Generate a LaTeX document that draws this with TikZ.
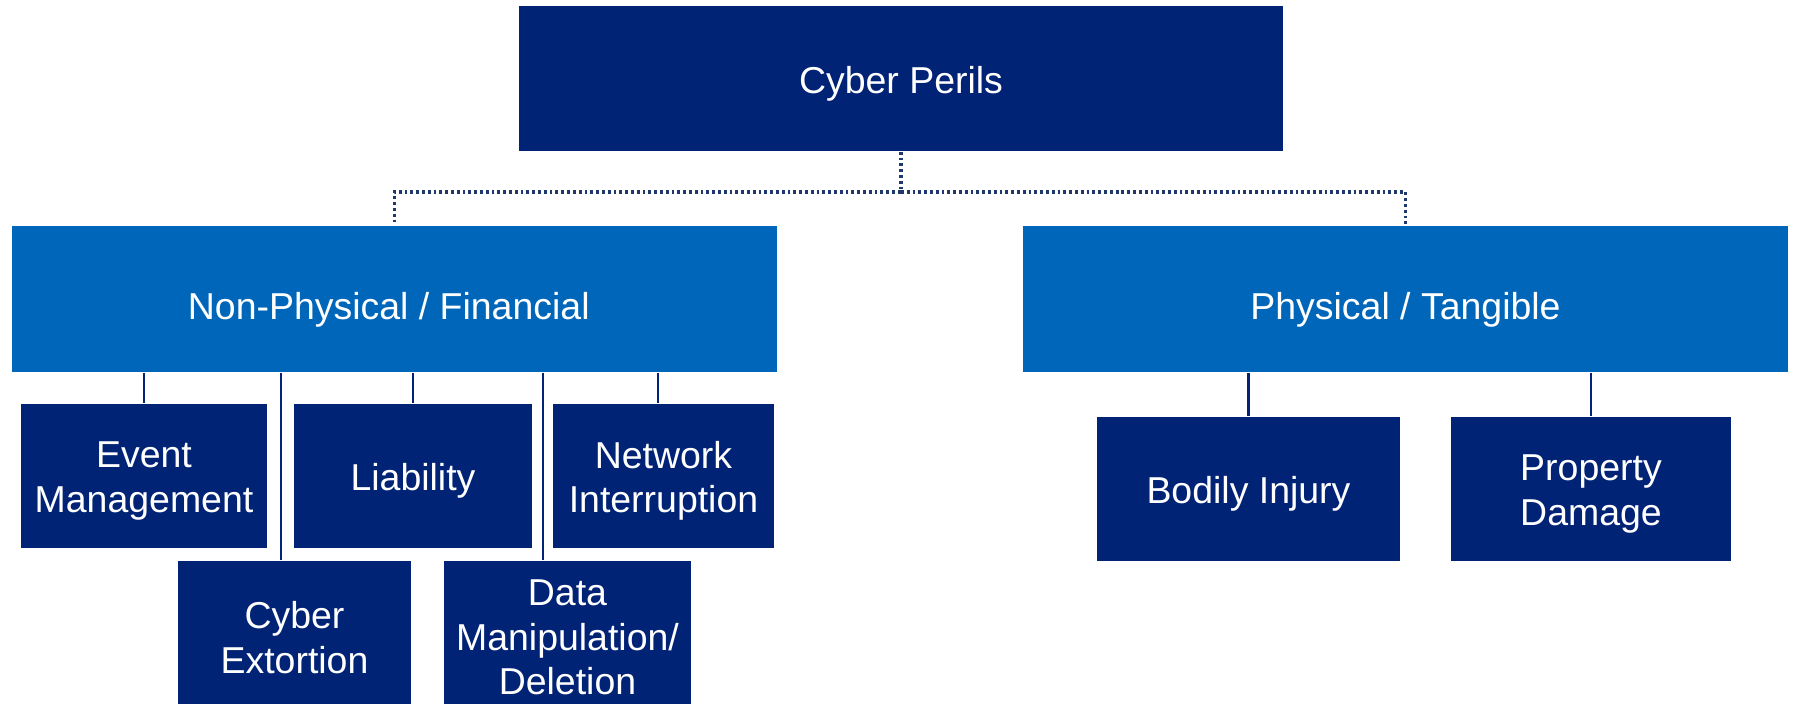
\documentclass[tikz,border=0pt]{standalone}
\usepackage{fontspec}
\setmainfont{Liberation Sans}
\definecolor{navy}{RGB}{0,35,117}
\definecolor{midblue}{RGB}{0,102,185}
\definecolor{dotblue}{RGB}{31,56,110}
\begin{document}
\begin{tikzpicture}[x=0.01cm,y=-0.01cm,
  box/.style={rectangle, inner sep=0pt},
  tx/.style={text=white, align=center, inner sep=0pt, yshift=-0.05cm,
    font=\fontsize{10.65}{12.6}\selectfont},
  txb/.style={tx, yshift=-0.055cm},
  navybox/.style={box, fill=navy},
  bluebox/.style={box, fill=midblue},
  link/.style={draw=navy, line width=0.6pt},
  dotlink/.style={draw=dotblue, line width=0.9pt, dash pattern=on 0.8pt off 0.85pt}]
\useasboundingbox (0,0) rectangle (1793,704);
% top
\node[navybox, minimum width=7.64cm, minimum height=1.45cm,
  label={[tx]center:Cyber Perils}] (top) at (901,78.5) {};
% level 2
\node[bluebox, minimum width=7.65cm, minimum height=1.46cm,
  label={[txb, xshift=-0.057cm]center:Non-Physical / Financial}] (nonphys) at (394.5,299) {};
\node[bluebox, minimum width=7.65cm, minimum height=1.46cm,
  label={[txb]center:Physical / Tangible}] (phys) at (1405.5,299) {};
% level 3 (non-physical)
\node[navybox, minimum width=2.46cm, minimum height=1.44cm,
  label={[tx]center:{Event\\Management}}] (event) at (144,476) {};
\node[navybox, minimum width=2.38cm, minimum height=1.44cm,
  label={[tx]center:Liability}] (liab) at (413,476) {};
\node[navybox, minimum width=2.21cm, minimum height=1.44cm,
  label={[tx]center:{Network\\Interruption}}] (net) at (663.5,476) {};
\node[navybox, minimum width=2.33cm, minimum height=1.43cm,
  label={[tx]center:{Cyber\\Extortion}}] (extort) at (294.5,632.5) {};
\node[navybox, minimum width=2.47cm, minimum height=1.43cm,
  label={[tx]center:{Data\\Manipulation/\\Deletion}}] (data) at (567.5,632.5) {};
% level 3 (physical)
\node[navybox, minimum width=3.03cm, minimum height=1.44cm,
  label={[tx]center:Bodily Injury}] (bodily) at (1248.5,489) {};
\node[navybox, minimum width=2.80cm, minimum height=1.44cm,
  label={[tx]center:{Property\\Damage}}] (prop) at (1591,489) {};
% dotted connectors
\coordinate (mid) at (901,192);
\draw[dotlink] (top.south) -- (mid) -| (nonphys.north);
\draw[dotlink] (mid) -| (phys.north);
% solid connectors
\draw[link] (nonphys.south -| event.north) -- (event.north);
\draw[link] (nonphys.south -| liab.north) -- (liab.north);
\coordinate (extTop) at ([xshift=-0.135cm]extort.north);
\draw[link] (nonphys.south -| extTop) -- (extTop);
\coordinate (dataTop) at ([xshift=-0.245cm]data.north);
\draw[link] (nonphys.south -| dataTop) -- (dataTop);
\coordinate (netTop) at ([xshift=-0.055cm]net.north);
\draw[link] (nonphys.south -| netTop) -- (netTop);
\draw[link] (phys.south -| bodily.north) -- (bodily.north);
\draw[link] (phys.south -| prop.north) -- (prop.north);
\end{tikzpicture}
\end{document}
